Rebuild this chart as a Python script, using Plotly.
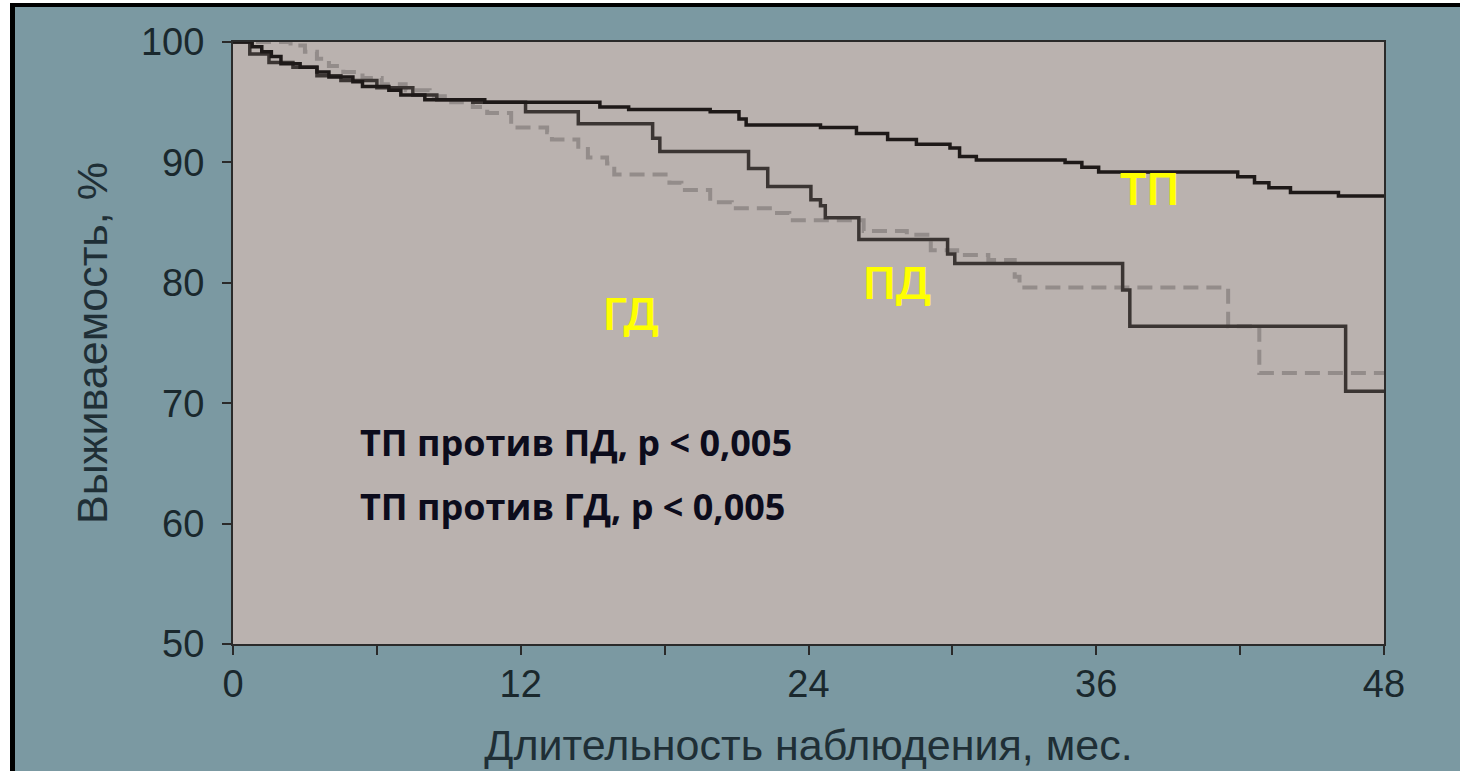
import plotly.graph_objects as go

# ---- data (months, survival %) ----
tp_t = [0, 0.8, 1.2, 1.6, 2.0, 2.8, 3.5, 4.0, 5.0, 5.4, 6.5, 7.0, 8.0, 10.5, 15.3, 16.5, 19.9, 21.1, 21.4, 24.5,
        26.0, 27.3, 28.5, 29.9, 30.3, 31.0, 34.7, 35.4, 36.1, 41.9, 42.6, 43.2, 44.1, 46.1, 48]
tp_s = [100, 99.6, 99.2, 98.8, 98.2, 97.9, 97.5, 97.1, 96.7, 96.3, 96.0, 95.6, 95.2, 95.0, 94.6, 94.4, 94.2, 93.6, 93.1, 92.9,
        92.4, 91.9, 91.5, 91.2, 90.5, 90.2, 90.0, 89.6, 89.2, 88.8, 88.3, 87.9, 87.5, 87.2, 87.2]

pd_t = [0, 0.7, 1.5, 2.5, 3.5, 4.5, 6.0, 7.5, 8.5, 10.0, 12.2, 14.4, 17.5, 17.8, 21.5, 22.3, 24.1, 24.5, 24.7,
        26.1, 29.8, 30.1, 37.1, 37.4, 46.4, 48]
pd_s = [100, 99.0, 98.3, 97.9, 97.2, 96.8, 96.2, 95.6, 95.2, 95.0, 94.2, 93.2, 92.0, 90.9, 89.5, 88.0, 86.9, 86.4, 85.4,
        83.6, 82.4, 81.6, 79.4, 76.4, 71.0, 71.0]

gd_t = [0, 2.4, 3.0, 3.5, 4.0, 4.6, 5.4, 6.2, 7.2, 8.2, 9.1, 10.0, 10.6, 11.6, 13.1, 13.3, 14.4, 14.8, 15.6, 15.9,
        18.2, 18.7, 19.9, 20.8, 22.6, 23.2, 26.3, 28.1, 29.1, 30.2, 31.5, 32.6, 32.8, 41.5, 42.8, 48]
gd_s = [100, 99.7, 99.2, 98.6, 98.0, 97.5, 97.0, 96.5, 96.0, 95.5, 95.0, 94.6, 94.1, 92.9, 92.5, 91.9, 91.3, 90.4, 89.9, 89.0,
        88.3, 87.7, 86.7, 86.2, 85.8, 85.2, 84.3, 84.0, 82.7, 82.3, 81.9, 80.5, 79.6, 76.4, 72.5, 72.5]

x_tick_vals = [0, 6, 12, 18, 24, 30, 36, 42, 48]
x_tick_text = ["0", "", "12", "", "24", "", "36", "", "48"]
y_tick_vals = [50, 60, 70, 80, 90, 100]

W, H = 1460, 771
L, R, T, B = 233, 76, 42, 127
pw, ph = W - L - R, H - T - B

def px(x):
    return (x - L) / pw

def py(y):
    return 1 - (y - T) / ph

fig = go.Figure()
fig.add_trace(go.Scatter(x=gd_t, y=gd_s, mode="lines", line=dict(shape="hv", color="#938c8a", width=4, dash="15px,8px"),
                         showlegend=False, hoverinfo="skip"))
fig.add_trace(go.Scatter(x=pd_t, y=pd_s, mode="lines", line=dict(shape="hv", color="#3b3533", width=3.5),
                         showlegend=False, hoverinfo="skip"))
fig.add_trace(go.Scatter(x=tp_t, y=tp_s, mode="lines", line=dict(shape="hv", color="#1e1918", width=3.5),
                         showlegend=False, hoverinfo="skip"))

axis_font = dict(family="Liberation Sans, Arial, sans-serif", size=38, color="#1a282d")
title_font = dict(family="Liberation Sans, Arial, sans-serif", size=43, color="#1f2f36")

fig.update_xaxes(range=[0, 48], tickvals=x_tick_vals, ticktext=x_tick_text, ticks="outside", ticklen=9,
                 tickwidth=2, tickcolor="#2a2a2a", showline=True, linecolor="#2a2a2a", linewidth=2, mirror=True,
                 showgrid=False, zeroline=False, tickfont=axis_font, ticklabelstandoff=-4,
                 title=dict(text="Длительность наблюдения, мес.", font=title_font, standoff=26))
fig.update_yaxes(range=[50, 100], tickvals=y_tick_vals, ticks="outside", ticklen=9, tickwidth=2,
                 tickcolor="#2a2a2a", showline=True, linecolor="#2a2a2a", linewidth=2, mirror=True,
                 showgrid=False, zeroline=False, tickfont=axis_font, ticklabelstandoff=10,
                 title=dict(text="Выживаемость, %", font=title_font, standoff=20))

yellow = dict(family="Lato, Open Sans, sans-serif", size=44, color="#ffff00", weight="bold")
black = dict(family="Open Sans, Lato, sans-serif", size=36, color="#0c0c1c", weight="bold")
ann = [
    dict(x=38.2, y=87.9, text="ТП", font=yellow, xanchor="center", yanchor="middle"),
    dict(x=27.7, y=80.1, text="ПД", font=yellow, xanchor="center", yanchor="middle"),
    dict(x=16.6, y=77.5, text="ГД", font=yellow, xanchor="center", yanchor="middle"),
    dict(x=5.2, y=66.7, text="ТП против ПД, p &lt; 0,005", font=black, xanchor="left", yanchor="middle"),
    dict(x=5.2, y=61.4, text="ТП против ГД, p &lt; 0,005", font=black, xanchor="left", yanchor="middle"),
]
for a in ann:
    a.update(xref="x", yref="y", showarrow=False)

shapes = [
    dict(type="rect", xref="paper", yref="paper", x0=px(0), x1=px(W), y0=py(0), y1=py(3), fillcolor="white", line_width=0, layer="above"),
    dict(type="rect", xref="paper", yref="paper", x0=px(0), x1=px(10), y0=py(0), y1=py(H), fillcolor="white", line_width=0, layer="above"),
    dict(type="rect", xref="paper", yref="paper", x0=px(10), x1=px(W), y0=py(3), y1=py(7), fillcolor="black", line_width=0, layer="above"),
    dict(type="rect", xref="paper", yref="paper", x0=px(10), x1=px(15), y0=py(3), y1=py(H), fillcolor="black", line_width=0, layer="above"),
]

fig.update_layout(width=W, height=H, margin=dict(l=L, r=R, t=T, b=B, autoexpand=False),
                  paper_bgcolor="#7b99a2", plot_bgcolor="#bab2af", annotations=ann, shapes=shapes,
                  hovermode=False)

fig.write_html("out.html")
